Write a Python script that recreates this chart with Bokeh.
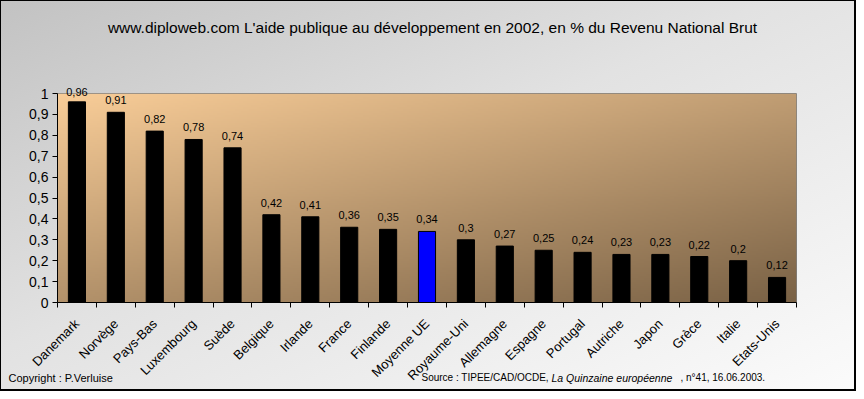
import numpy as np
from bokeh.plotting import figure
from bokeh.models import FixedTicker, Label, LabelSet, ColumnDataSource
from bokeh.core.properties import value
from bokeh.embed import file_html
from bokeh.resources import INLINE

countries = ["Danemark", "Norvège", "Pays-Bas", "Luxembourg", "Suède", "Belgique",
             "Irlande", "France", "Finlande", "Moyenne UE", "Royaume-Uni", "Allemagne",
             "Espagne", "Portugal", "Autriche", "Japon", "Grèce", "Italie", "Etats-Unis"]
apd = [0.96, 0.91, 0.82, 0.78, 0.74, 0.42, 0.41, 0.36, 0.35, 0.34, 0.3, 0.27,
       0.25, 0.24, 0.23, 0.23, 0.22, 0.2, 0.12]
highlight = "Moyenne UE"
y_ticks = [0, 0.1, 0.2, 0.3, 0.4, 0.5, 0.6, 0.7, 0.8, 0.9, 1.0]
y_tick_labels = ["0", "0,1", "0,2", "0,3", "0,4", "0,5", "0,6", "0,7", "0,8", "0,9", "1"]

title_text = "www.diploweb.com L'aide publique au développement en 2002, en % du Revenu National Brut"
FONT = "Liberation Sans"

n = len(countries)
xs = [i + 0.5 for i in range(n)]
colors = ["#0000FF" if c == highlight else "#000000" for c in countries]
labels = [("%g" % v).replace(".", ",") for v in apd]
src = ColumnDataSource(dict(x=xs, top=apd, color=colors, lab=labels))

W, H = 856, 391
p = figure(width=W, height=H, output_backend="svg", toolbar_location=None,
           x_range=(0, n), y_range=(0, 1), title=None,
           min_border_left=57, min_border_right=60, min_border_top=93, min_border_bottom=86)
p.border_fill_alpha = 0
p.styles = {"background": "linear-gradient(to bottom right, #c2c2c2 0%, #e2e2e2 45%, #fbfbfb 100%)",
            "box-shadow": "inset 1px 1px 0 0 #000, inset -2px -2px 0 0 #000"}
p.outline_line_color = "#808080"
p.xgrid.visible = False
p.ygrid.visible = False

# frame gradient background
nx, ny = 370, 106
xn = np.linspace(0, 1, nx)[None, :]
rf = np.linspace(0, 1, ny)[:, None]
t = 0.45 * xn + 0.55 * (1 - rf)
c0 = np.array([249, 205, 152], dtype=float)
c1 = np.array([122, 98, 70], dtype=float)
img = np.empty((ny, nx), dtype=np.uint32)
view = img.view(dtype=np.uint8).reshape((ny, nx, 4))
for k in range(3):
    view[:, :, k] = (c0[k] + (c1[k] - c0[k]) * t).astype(np.uint8)
view[:, :, 3] = 255
p.image_rgba(image=[img], x=0, y=0, dw=n, dh=1, level="image")

p.vbar(x="x", top="top", width=0.44, fill_color="color", line_color="black", source=src)

# value labels: those that would cross the frame top go into a side panel (not clipped)
inside = [i for i, v in enumerate(apd) if v <= 0.93]
outside = [i for i, v in enumerate(apd) if v > 0.93]
src_in = ColumnDataSource(dict(x=[xs[i] for i in inside], top=[apd[i] for i in inside],
                               lab=[labels[i] for i in inside]))
p.add_layout(LabelSet(x="x", y="top", text="lab", source=src_in, text_align="center",
                      text_baseline="middle", y_offset=12, text_font=value(FONT),
                      text_font_size=value("11px"), text_color="black"))

# free texts, hosted in the top side panel so they are not clipped to the frame
def txt(x, y, s, align="left", size="11px", style="normal", units="canvas", yoff=0):
    p.add_layout(Label(x=x, y=y, x_units=units, y_units=units, text=s, y_offset=yoff,
                       text_align=align, text_baseline="middle", text_font=FONT,
                       text_font_size=size, text_font_style=style, text_color="black"),
                 "above")

for i in outside:
    txt(xs[i], apd[i], labels[i], align="center", units="data", yoff=10)

txt(432, 27, title_text, align="center", size="15.5px")
txt(8, 377, "Copyright : P.Verluise")
txt(421, 377, "Source : TIPEE/CAD/OCDE, ", size="10px")
txt(551, 377, "La Quinzaine européenne", size="10.5px", style="italic")
txt(680, 377, " , n°41, 16.06.2003.", size="10px")

# axes
p.xaxis.ticker = FixedTicker(ticks=xs, minor_ticks=list(range(n + 1)))
p.xaxis.major_label_overrides = {x: c for x, c in zip(xs, countries)}
p.xaxis.major_label_orientation = np.pi / 4
p.xaxis.major_tick_out = 0
p.xaxis.major_tick_in = 0
p.xaxis.minor_tick_out = 5
p.xaxis.minor_tick_in = 0
p.xaxis.minor_tick_line_color = "black"
p.xaxis.axis_line_color = "black"
p.xaxis.major_label_text_font = FONT
p.xaxis.major_label_text_font_size = "13px"
p.xaxis.major_label_text_color = "black"
p.xaxis.major_label_standoff = 14

p.yaxis.ticker = FixedTicker(ticks=y_ticks, minor_ticks=[])
p.yaxis.major_label_overrides = {v: s for v, s in zip(y_ticks, y_tick_labels)}
p.yaxis.major_tick_out = 5
p.yaxis.major_tick_in = 0
p.yaxis.major_tick_line_color = "black"
p.yaxis.axis_line_color = "black"
p.yaxis.major_label_text_font = FONT
p.yaxis.major_label_text_font_size = "14px"
p.yaxis.major_label_text_color = "black"
p.yaxis.major_label_standoff = 4

open("out.html", "w").write(file_html(p, INLINE))
